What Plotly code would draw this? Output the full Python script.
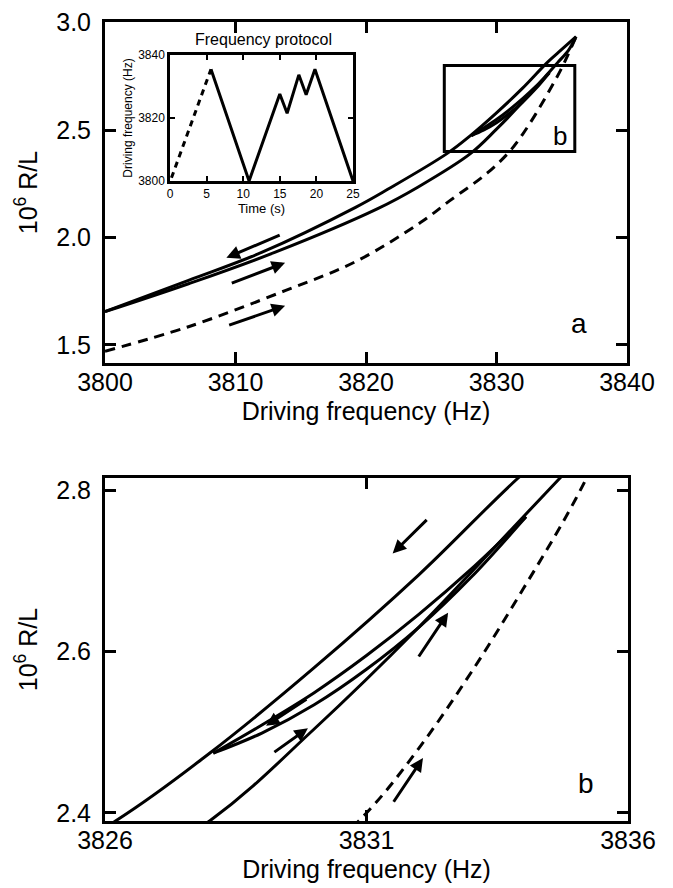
import plotly.graph_objects as go

# ---------------- data ----------------
# initial up-sweep (dashed)
up0_f = [3800, 3806.4, 3813.8, 3819.2, 3824.2, 3826.4, 3829.3, 3831.0, 3832.0, 3833.0, 3834.0, 3835.0, 3836.1]
up0_v = [1.47, 1.584, 1.752, 1.887, 2.07, 2.17, 2.30, 2.40, 2.48, 2.574, 2.678, 2.789, 2.935]

# down-sweep (upper solid)
down_f = [3800, 3806.4, 3812, 3819.2, 3821.7, 3826.2, 3828, 3830, 3832, 3833.9, 3835, 3836.1]
down_v = [1.654, 1.80, 1.93, 2.14, 2.225, 2.39, 2.474, 2.58, 2.695, 2.815, 2.875, 2.935]

# up-sweep (lower solid)
up_f = [3800, 3806.4, 3813, 3820.9, 3824, 3828.0, 3830, 3832, 3834, 3834.7, 3835.5, 3836.1]
up_v = [1.654, 1.784, 1.93, 2.134, 2.235, 2.39, 2.504, 2.630, 2.767, 2.815, 2.87, 2.935]

# minor loop (3828 <-> 3834)
loopdn_f = [3828.07, 3829, 3830, 3831, 3832, 3833, 3834.05]
loopdn_v = [2.474, 2.509, 2.549, 2.595, 2.646, 2.702, 2.767]
loopup_f = [3828.07, 3829, 3830, 3831, 3832, 3833, 3834.05]
loopup_v = [2.474, 2.499, 2.534, 2.578, 2.630, 2.692, 2.767]

# frequency protocol (inset)
prot_dash_t = [0.2, 5.6]
prot_dash_f = [3801, 3835.5]
prot_t = [5.6, 10.8, 15.0, 16.0, 17.6, 18.6, 19.8, 25.0]
prot_f = [3835.5, 3800, 3827.6, 3821.5, 3833.7, 3827.4, 3835.5, 3800]

# arrows: (tail_f, tail_v, head_f, head_v)
arrows_a = [
    (3813.5, 2.013, 3809.3, 1.905),
    (3809.6, 1.784, 3813.8, 1.882),
    (3809.4, 1.589, 3813.8, 1.682),
]
arrows_b = [
    (3832.18, 2.765, 3831.5, 2.7215),
    (3831.98, 2.592, 3832.56, 2.648),
    (3829.88, 2.542, 3829.08, 2.508),
    (3829.21, 2.474, 3829.88, 2.505),
    (3831.5, 2.412, 3832.08, 2.468),
]

x_ticks_a = [3800, 3810, 3820, 3830, 3840]
y_ticks_a = [1.5, 2.0, 2.5, 3.0]
x_ticks_b = [3826, 3831, 3836]
y_ticks_b = [2.4, 2.6, 2.8]

FONT = "Liberation Sans, Arial, sans-serif"
LW = 3

fig = go.Figure()

def add_curves(xa, ya):
    fig.add_trace(go.Scatter(x=up0_f, y=up0_v, mode="lines", xaxis=xa, yaxis=ya,
                             line=dict(color="black", width=LW, dash="10px,7px", shape="spline")))
    for fx, vy in [(down_f, down_v), (up_f, up_v), (loopdn_f, loopdn_v), (loopup_f, loopup_v)]:
        fig.add_trace(go.Scatter(x=fx, y=vy, mode="lines", xaxis=xa, yaxis=ya,
                                 line=dict(color="black", width=LW, shape="spline")))

add_curves("x", "y")
add_curves("x2", "y2")

fig.add_trace(go.Scatter(x=prot_dash_t, y=prot_dash_f, mode="lines", xaxis="x3", yaxis="y3",
                         line=dict(color="black", width=3, dash="6px,5px")))
fig.add_trace(go.Scatter(x=prot_t, y=prot_f, mode="lines", xaxis="x3", yaxis="y3",
                         line=dict(color="black", width=3)))

W, H = 673, 888
def dx(p0, p1):
    return [p0 / W, p1 / W]
def dy(top, bot):
    return [1 - bot / H, 1 - top / H]

ax_common = dict(showline=True, linewidth=3, linecolor="black", mirror="ticks",
                 ticks="inside", ticklen=11, tickwidth=2.5, tickcolor="black",
                 showgrid=False, zeroline=False, automargin=False,
                 tickfont=dict(family=FONT, size=25, color="black"))
TFONT = dict(family=FONT, size=25, color="black")

fig.update_layout(
    width=W, height=H, margin=dict(l=0, r=0, t=0, b=0),
    paper_bgcolor="white", plot_bgcolor="white", showlegend=False,
    xaxis=dict(ax_common, domain=dx(97, 619), range=[3800, 3840], tickvals=x_ticks_a,
               title=dict(text="Driving frequency (Hz)", font=TFONT, standoff=8),
               ticklabelstandoff=-5),
    yaxis=dict(ax_common, domain=dy(14, 355), range=[1.415, 3.003], tickvals=y_ticks_a,
               tickformat=".1f",
               title=dict(text="10<sup>6</sup> R/L", font=TFONT, standoff=12),
               ticklabelstandoff=6),
    xaxis2=dict(ax_common, domain=dx(97, 620), range=[3826, 3836], tickvals=x_ticks_b, anchor="y2",
                title=dict(text="Driving frequency (Hz)", font=TFONT, standoff=8),
                ticklabelstandoff=-5),
    yaxis2=dict(ax_common, domain=dy(470, 813), range=[2.39, 2.815], tickvals=y_ticks_b, anchor="x2",
                tickformat=".1f",
                title=dict(text="10<sup>6</sup> R/L", font=TFONT, standoff=12),
                ticklabelstandoff=6),
    xaxis3=dict(ax_common, domain=dx(162, 345), range=[0, 25], tickvals=[0, 5, 10, 15, 20, 25],
                anchor="y3", linewidth=2.5, ticklen=5, tickwidth=1.5,
                tickfont=dict(family=FONT, size=12, color="black"),
                title=dict(text="Time (s)", font=dict(family=FONT, size=13, color="black"), standoff=2),
                ticklabelstandoff=0),
    yaxis3=dict(ax_common, domain=dy(47, 173), range=[3800, 3840], tickvals=[3800, 3820, 3840],
                anchor="x3", linewidth=2.5, ticklen=5, tickwidth=1.5,
                tickfont=dict(family=FONT, size=12, color="black"),
                title=dict(text="Driving frequency (Hz)", font=dict(family=FONT, size=12, color="black"), standoff=3),
                ticklabelstandoff=0),
)

# zoom box
fig.add_shape(type="rect", xref="x", yref="y", x0=3826, x1=3836, y0=2.4, y1=2.8,
              line=dict(color="black", width=3), fillcolor="rgba(0,0,0,0)")

ann = []
ann.append(dict(text="Frequency protocol", xref="paper", yref="paper", x=255 / W, y=1 - 32 / H,
                xanchor="center", yanchor="middle",
                showarrow=False, font=dict(family=FONT, size=16, color="black")))
ann.append(dict(text="a", xref="x", yref="y", x=3836.3, y=1.6, showarrow=False,
                font=dict(family=FONT, size=28, color="black")))
ann.append(dict(text="b", xref="x", yref="y", x=3834.9, y=2.47, showarrow=False,
                font=dict(family=FONT, size=26, color="black")))
ann.append(dict(text="b", xref="x2", yref="y2", x=3835.2, y=2.437, showarrow=False,
                font=dict(family=FONT, size=28, color="black")))
for (tf, tv, hf, hv) in arrows_a:
    ann.append(dict(x=hf, y=hv, ax=tf, ay=tv, xref="x", yref="y", axref="x", ayref="y",
                    text="", showarrow=True, arrowhead=2, arrowsize=0.9, arrowwidth=3,
                    arrowcolor="black", standoff=0, startstandoff=0))
for (tf, tv, hf, hv) in arrows_b:
    ann.append(dict(x=hf, y=hv, ax=tf, ay=tv, xref="x2", yref="y2", axref="x2", ayref="y2",
                    text="", showarrow=True, arrowhead=2, arrowsize=0.9, arrowwidth=3,
                    arrowcolor="black", standoff=0, startstandoff=0))
fig.update_layout(annotations=ann)

fig.write_html("out.html")
